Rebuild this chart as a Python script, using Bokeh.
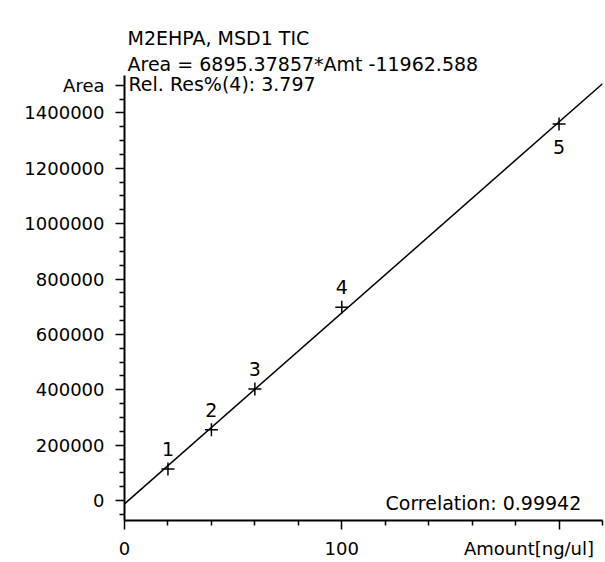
from bokeh.plotting import figure
from bokeh.models import Range1d, FixedTicker, Label, ColumnDataSource, Title, LinearAxis
from bokeh.core.properties import value
from bokeh.embed import file_html
from bokeh.resources import INLINE

# ---- data ----
amounts = [20, 40, 60, 100, 200]
areas = [114000, 256000, 403000, 698000, 1360000]
point_labels = ["1", "2", "3", "4", "5"]
slope = 6895.37857
intercept = -11962.588
fit_x = [0, 220]
x_ticks = [0, 100, 200]
y_ticks = [0, 200000, 400000, 600000, 800000, 1000000, 1200000, 1400000]
y_title_pos = 1500000
title_line1 = "M2EHPA, MSD1 TIC"
title_line2 = "Area = 6895.37857*Amt -11962.588"
rel_res_text = "Rel. Res%(4): 3.797"
corr_text = "Correlation: 0.99942"
x_title = "Amount[ng/ul]"
y_title = "Area"

X0, X1 = 0, 220
Y0, Y1 = -72000, 1535000
FONT = "DejaVu Sans"

p = figure(frame_width=478, frame_height=445,
           x_range=Range1d(X0, X1), y_range=Range1d(Y0, Y1),
           output_backend="svg", toolbar_location=None,
           min_border_left=124, min_border_right=3,
           min_border_top=75, min_border_bottom=42,
           background_fill_color="white", border_fill_color="white")
p.outline_line_color = None
p.grid.visible = False

xa = p.below[0]
ya = p.left[0]

# invisible spacer between the frame and the title lines (first added sits nearest the frame)
spacer = LinearAxis(ticker=FixedTicker(ticks=[], minor_ticks=[]), axis_line_color=None,
                    major_tick_line_color=None, minor_tick_line_color=None,
                    major_tick_in=0, minor_tick_in=0, major_tick_out=23, minor_tick_out=0,
                    major_label_standoff=0)
p.add_layout(spacer, "above")
p.add_layout(Title(text=title_line2, align="left", offset=3, text_font=FONT,
                   text_font_size="19px", text_font_style="normal", text_color="black",
                   standoff=2), "above")
p.add_layout(Title(text=title_line1, align="left", offset=3, text_font=FONT,
                   text_font_size="19px", text_font_style="normal", text_color="black",
                   standoff=2), "above")

# axes
x_minor = [v for v in range(X0, X1 + 1, 20) if v not in x_ticks]
xa.ticker = FixedTicker(ticks=x_ticks, minor_ticks=x_minor)
# the axis title takes the place of the last x tick label, shifted to end at the frame edge
xa.major_label_overrides = {200: x_title + "\u00a0" * 2}
y_minor = [v for v in range(-50000, y_title_pos, 50000) if v not in y_ticks]
ya.ticker = FixedTicker(ticks=y_ticks + [y_title_pos], minor_ticks=y_minor)
ya.formatter.use_scientific = False
ya.major_label_overrides = {y_title_pos: y_title}

for ax in (xa, ya):
    ax.axis_line_color = "black"
    ax.axis_line_width = 2
    ax.major_tick_line_color = "black"
    ax.major_tick_line_width = 1.5
    ax.minor_tick_line_color = "black"
    ax.minor_tick_line_width = 1.5
    ax.major_tick_in = 0
    ax.minor_tick_in = 0
    ax.major_tick_out = 9
    ax.minor_tick_out = 5
    ax.major_label_text_font = FONT
    ax.major_label_text_font_size = "18px"
    ax.major_label_text_color = "black"
ya.major_label_standoff = 11
xa.major_label_standoff = 8

# fit line
fit_y = [slope * x + intercept for x in fit_x]
p.line(fit_x, fit_y, line_color="black", line_width=1.5)

# points
src = ColumnDataSource(dict(x=amounts, y=areas, lab=point_labels,
                            off=[-20 if i < len(amounts) - 1 else 23 for i in range(len(amounts))]))
p.scatter("x", "y", source=src, marker="cross", size=13, line_color="black", line_width=1.5)
p.text("x", "y", text="lab", source=src, y_offset="off",
       text_font=value(FONT), text_font_size="19px", text_color="black",
       text_align="center", text_baseline="middle")

def add_label(x, y, text, xo, yo, align="left"):
    p.add_layout(Label(x=x, y=y, text=text, x_offset=xo, y_offset=yo,
                       text_font=FONT, text_font_size="19px", text_color="black",
                       text_align=align, text_baseline="middle"))

add_label(X0, Y1, rel_res_text, 4, -8)
add_label(X0, Y0, corr_text, 261, 18)

open("out.html", "w").write(file_html(p, INLINE))
